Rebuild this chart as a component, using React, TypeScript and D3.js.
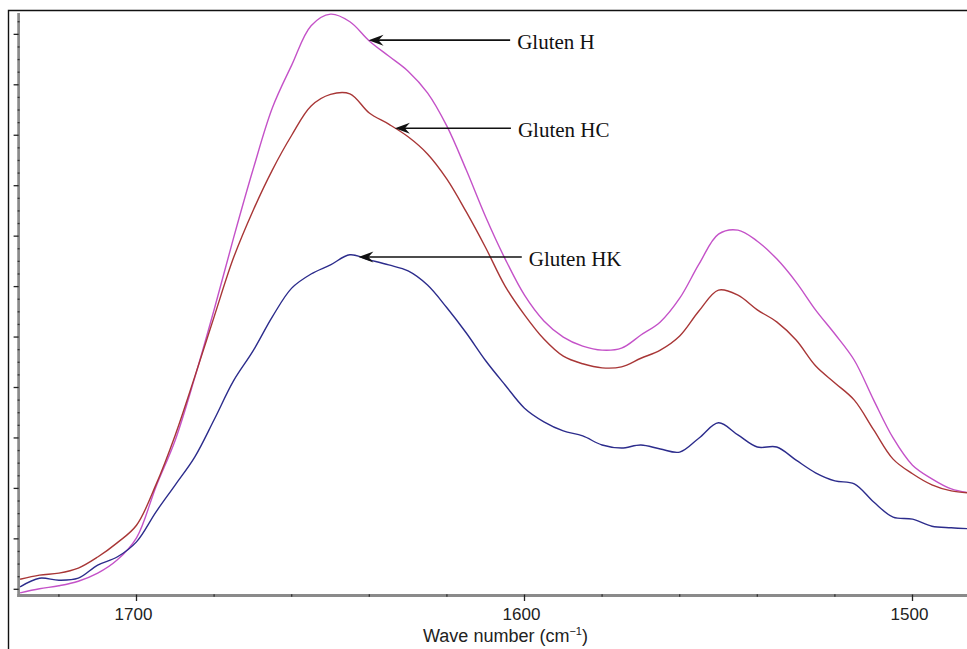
import React, { useRef, useEffect } from "react";
import * as d3 from "d3";

// wave numbers (cm-1), left to right as in the plot
const wavenumbers = [
  1730, 1725, 1720, 1715, 1710, 1705, 1700, 1695, 1690, 1685,
  1680, 1675, 1670, 1665, 1660, 1655, 1650, 1645, 1640, 1635,
  1630, 1625, 1620, 1615, 1610, 1605, 1600, 1595, 1590, 1585,
  1580, 1575, 1570, 1565, 1560, 1555, 1550, 1545, 1540, 1535,
  1530, 1525, 1520, 1515, 1510, 1505, 1500, 1495, 1490, 1485,
];

// absorbance (arbitrary units, one major tick = 0.1)
const glutenH = [
  -0.007, 0.001, 0.007, 0.016, 0.032, 0.058, 0.102, 0.203, 0.296, 0.419,
  0.554, 0.696, 0.831, 0.954, 1.039, 1.117, 1.14, 1.125, 1.087, 1.057,
  1.027, 0.984, 0.918, 0.831, 0.738, 0.655, 0.583, 0.532, 0.5, 0.482,
  0.474, 0.478, 0.504, 0.53, 0.577, 0.645, 0.704, 0.712, 0.69, 0.655,
  0.609, 0.554, 0.506, 0.454, 0.375, 0.3, 0.246, 0.219, 0.199, 0.191,
];
const glutenHC = [
  0.02, 0.028, 0.032, 0.042, 0.064, 0.092, 0.127, 0.207, 0.306, 0.421,
  0.54, 0.657, 0.75, 0.831, 0.9, 0.958, 0.981, 0.982, 0.944, 0.922,
  0.897, 0.863, 0.813, 0.748, 0.677, 0.601, 0.544, 0.496, 0.462, 0.447,
  0.439, 0.441, 0.458, 0.474, 0.502, 0.552, 0.593, 0.583, 0.554, 0.53,
  0.494, 0.443, 0.409, 0.375, 0.316, 0.258, 0.229, 0.207, 0.195, 0.191,
];
const glutenHK = [
  0.005, 0.022, 0.018, 0.022, 0.048, 0.064, 0.094, 0.153, 0.207, 0.262,
  0.336, 0.413, 0.472, 0.54, 0.597, 0.625, 0.643, 0.663, 0.653, 0.643,
  0.631, 0.603, 0.558, 0.508, 0.453, 0.405, 0.359, 0.332, 0.314, 0.304,
  0.286, 0.28, 0.286, 0.278, 0.272, 0.3, 0.33, 0.306, 0.282, 0.282,
  0.256, 0.231, 0.215, 0.209, 0.173, 0.143, 0.139, 0.125, 0.122, 0.12,
];

const seriesNames = ["Gluten H", "Gluten HC", "Gluten HK"];
const seriesColors = ["#c452c8", "#a83636", "#2c2c8c"];
const xMajorTicks = [1700, 1600, 1500];

// arrow tip (on the curve) and arrow tail, in wave numbers
const arrowTips = [1640.2, 1633.4, 1642.8];
const arrowTails = [1603.7, 1603.5, 1600.7];

const App = () => {
  const svgRef = useRef<SVGSVGElement>(null);
  const width = 967;
  const height = 649;

  useEffect(() => {
    document.body.style.margin = "0";
    const svg = d3.select(svgRef.current);
    svg.selectAll("*").remove();

    const x = d3.scaleLinear().domain([1700, 1500]).range([136.5, 912.5]);
    const y = d3.scaleLinear().domain([0, 1.1]).range([589.3, 34.35]);
    const left = 18.6;
    const bottom = 595.5;
    const top = 13;

    // outer frame (left + top only, the rest is cropped)
    svg
      .append("path")
      .attr("d", `M8.5,${height} V10.5 H${width}`)
      .attr("fill", "none")
      .attr("stroke", "#111")
      .attr("stroke-width", 1.4);

    // grey axis bars
    svg
      .append("line")
      .attr("x1", left)
      .attr("x2", left)
      .attr("y1", top)
      .attr("y2", bottom + 1.5)
      .attr("stroke", "#8a8a8a")
      .attr("stroke-width", 2.7);
    svg
      .append("line")
      .attr("x1", left - 1.3)
      .attr("x2", width)
      .attr("y1", bottom)
      .attr("y2", bottom)
      .attr("stroke", "#8a8a8a")
      .attr("stroke-width", 3);

    // y ticks
    const yMajor = y.ticks(11);
    const yMinor = d3
      .range(0, 1.14, 0.025)
      .filter((v) => Math.abs(v * 10 - Math.round(v * 10)) > 0.01);
    svg
      .selectAll(".ymaj")
      .data(yMajor)
      .join("line")
      .attr("x1", left - 5)
      .attr("x2", left)
      .attr("y1", (d) => y(d))
      .attr("y2", (d) => y(d))
      .attr("stroke", "#222")
      .attr("stroke-width", 1.3);
    svg
      .selectAll(".ymin")
      .data(yMinor)
      .join("line")
      .attr("x1", left - 1)
      .attr("x2", left + 1)
      .attr("y1", (d) => y(d))
      .attr("y2", (d) => y(d))
      .attr("stroke", "#333")
      .attr("stroke-width", 1.3);

    // x ticks
    const xMinor = d3.range(1720, 1499, -20).filter((v) => v % 100 !== 0);
    svg
      .selectAll(".xmaj")
      .data(xMajorTicks)
      .join("line")
      .attr("x1", (d) => x(d))
      .attr("x2", (d) => x(d))
      .attr("y1", bottom - 1)
      .attr("y2", bottom + 5.5)
      .attr("stroke", "#222")
      .attr("stroke-width", 1.3);
    svg
      .selectAll(".xmin")
      .data(xMinor)
      .join("line")
      .attr("x1", (d) => x(d))
      .attr("x2", (d) => x(d))
      .attr("y1", bottom - 1.2)
      .attr("y2", bottom + 1.2)
      .attr("stroke", "#333")
      .attr("stroke-width", 1.3);

    svg
      .selectAll(".xlab")
      .data(xMajorTicks)
      .join("text")
      .attr("x", (d) => x(d) - 3)
      .attr("y", 620)
      .attr("text-anchor", "middle")
      .attr("font-family", "Liberation Sans, Arial, sans-serif")
      .attr("font-size", 17)
      .attr("fill", "#222")
      .text((d) => d);

    const title = svg
      .append("text")
      .attr("x", 505.5)
      .attr("y", 642)
      .attr("text-anchor", "middle")
      .attr("font-family", "Liberation Sans, Arial, sans-serif")
      .attr("font-size", 18)
      .attr("fill", "#222");
    title.append("tspan").text("Wave number (cm");
    title.append("tspan").attr("font-size", 11).attr("dy", -7).text("\u22121");
    title.append("tspan").attr("dy", 7).text(")");

    // spectra
    const series = [glutenH, glutenHC, glutenHK];
    const line = d3
      .line<number>()
      .x((d, i) => x(wavenumbers[i]))
      .y((d) => y(d))
      .curve(d3.curveCatmullRom.alpha(0.5));

    svg
      .selectAll(".spectrum")
      .data(series)
      .join("path")
      .attr("d", (d) => line(d))
      .attr("fill", "none")
      .attr("stroke", (d, i) => seriesColors[i])
      .attr("stroke-width", 1.4)
      .attr("stroke-linejoin", "round");

    // value of a series at any wave number (linear between samples)
    const valueAt = (vals: number[], w: number) => {
      const i = wavenumbers.findIndex((v) => v < w);
      const w0 = wavenumbers[i - 1];
      const w1 = wavenumbers[i];
      const t = (w0 - w) / (w0 - w1);
      return vals[i - 1] + t * (vals[i] - vals[i - 1]);
    };

    // arrows + labels
    seriesNames.forEach((name, i) => {
      const tx = x(arrowTips[i]);
      const ty = y(valueAt(series[i], arrowTips[i]));
      const ex = x(arrowTails[i]);
      svg
        .append("line")
        .attr("x1", tx + 9)
        .attr("x2", ex)
        .attr("y1", ty)
        .attr("y2", ty)
        .attr("stroke", "#111")
        .attr("stroke-width", 1.6);
      svg
        .append("path")
        .attr(
          "d",
          `M${tx},${ty} L${tx + 15},${ty - 5.5} L${tx + 10},${ty} L${tx + 15},${ty + 5.5} Z`
        )
        .attr("fill", "#111");
      svg
        .append("text")
        .attr("x", ex + 7)
        .attr("y", ty + 9)
        .attr("font-family", "Liberation Serif, Times New Roman, serif")
        .attr("font-size", 21)
        .attr("fill", "#111")
        .text(name);
    });
  }, []);

  return (
    <svg
      ref={svgRef}
      width={width}
      height={height}
      style={{ display: "block", background: "#fff" }}
    ></svg>
  );
};

export default App;
